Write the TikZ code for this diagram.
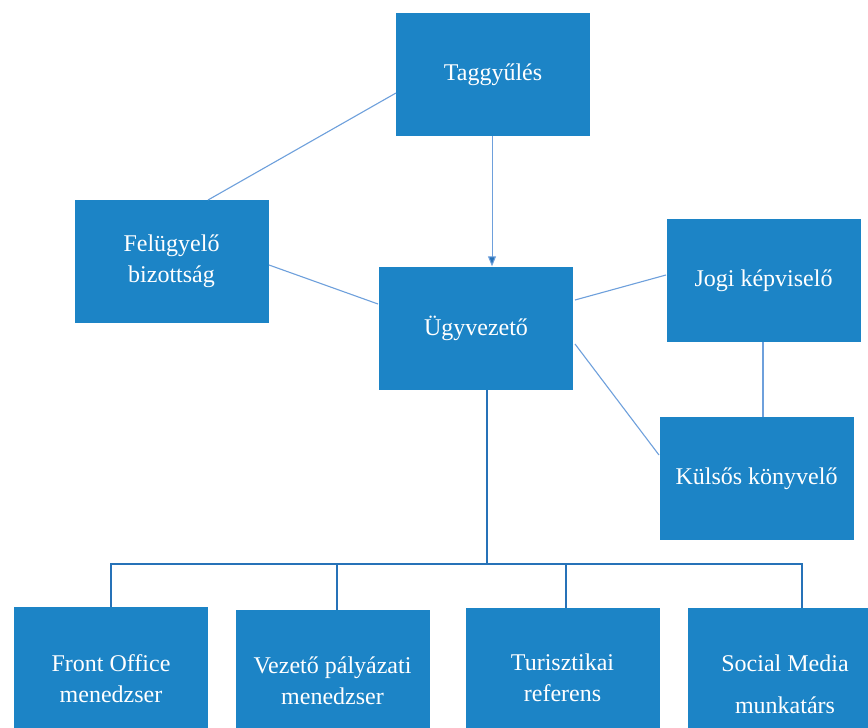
\documentclass[tikz,border=0pt]{standalone}
\usepackage{fontspec}
\setmainfont{Liberation Serif}
\usetikzlibrary{arrows.meta}
\definecolor{boxblue}{RGB}{28,132,198}
\definecolor{thinline}{RGB}{110,160,220}
\definecolor{treeline}{RGB}{38,114,184}
\begin{document}
\begin{tikzpicture}[x=1pt,y=-1pt,
  orgbox/.style={fill=boxblue, draw=none, minimum width=194pt, minimum height=123pt,
    text=white, font=\fontsize{24}{31}\selectfont, align=center, inner sep=0pt},
  lowbox/.style={orgbox, anchor=north, minimum height=160pt, text depth=0pt},
  lowtext/.style={text=white, font=\fontsize{24}{31}\selectfont, align=center},
  thin conn/.style={draw=thinline, line width=1.1pt},
  tree conn/.style={draw=treeline, line width=2.2pt}]
\useasboundingbox (0,0) rectangle (868,728);
\clip (0,0) rectangle (868,728);
\fill[white] (0,0) rectangle (868,728);
% boxes
\node[orgbox] (tag) at (493,74.5) {\raisebox{5pt}{Taggyűlés}};
\node[orgbox] (fel) at (171.5,261.5) {Felügyelő\\bizottság};
\node[orgbox] (ugy) at (476,328) {\raisebox{5pt}{Ügyvezető}};
\node[orgbox] (jogi) at (763.5,280.5) {\raisebox{5pt}{Jogi képviselő}};
\node[orgbox] (kul) at (756.5,478.5) {\raisebox{5pt}{Külsős könyvelő}};
% bottom row (cut off at the lower edge)
\node[lowbox] (fo) at (111,607) {};
\node[lowbox] (vp) at (332.5,610) {};
\node[lowbox] (tur) at (562.5,608) {};
\node[lowbox] (soc) at (785,608) {};
\node[lowtext] (fot) at (111,679) {Front Office\\menedzser};
\node[lowtext] (vpt) at (332.5,681) {Vezető pályázati\\menedzser};
\node[lowtext] (turt) at (562.5,678) {Turisztikai\\referens};
\node[lowtext, font=\fontsize{24}{42}\selectfont] (soct) at (785,684) {Social Media\\munkatárs};
% thin connectors
\coordinate (tagL) at (396,93);
\coordinate (felT) at (208,200);
\draw[thin conn] (tagL) -- (felT);
\coordinate (felR) at (269,265);
\coordinate (ugyL) at (378,304);
\draw[thin conn] (felR) -- (ugyL);
\coordinate (ugyR1) at (575,300);
\coordinate (jogiL) at (666,275);
\draw[thin conn] (ugyR1) -- (jogiL);
\coordinate (ugyR2) at (575,344);
\coordinate (kulL) at (659,455);
\draw[thin conn] (ugyR2) -- (kulL);
\draw[thin conn] (jogi.south -| 763,0) -- (kul.north -| 763,0);
\draw[draw=thinline, line width=1pt, -{Triangle[length=10pt,width=8pt,fill=treeline]}]
  (tag.south -| 492,0) -- (ugy.north -| 492,0);
% tree
\coordinate (busL) at (111,564);
\coordinate (busR) at (802,564);
\coordinate (trunk) at (487,564);
\draw[tree conn] (ugy.south -| trunk) -- (trunk);
\draw[tree conn, line cap=rect] (busL) -- (busR);
\draw[tree conn] (busL) -- (fo.north -| busL);
\draw[tree conn] (337,564) -- (vp.north -| 337,0);
\draw[tree conn] (566,564) -- (tur.north -| 566,0);
\draw[tree conn] (busR) -- (soc.north -| busR);
\end{tikzpicture}
\end{document}
